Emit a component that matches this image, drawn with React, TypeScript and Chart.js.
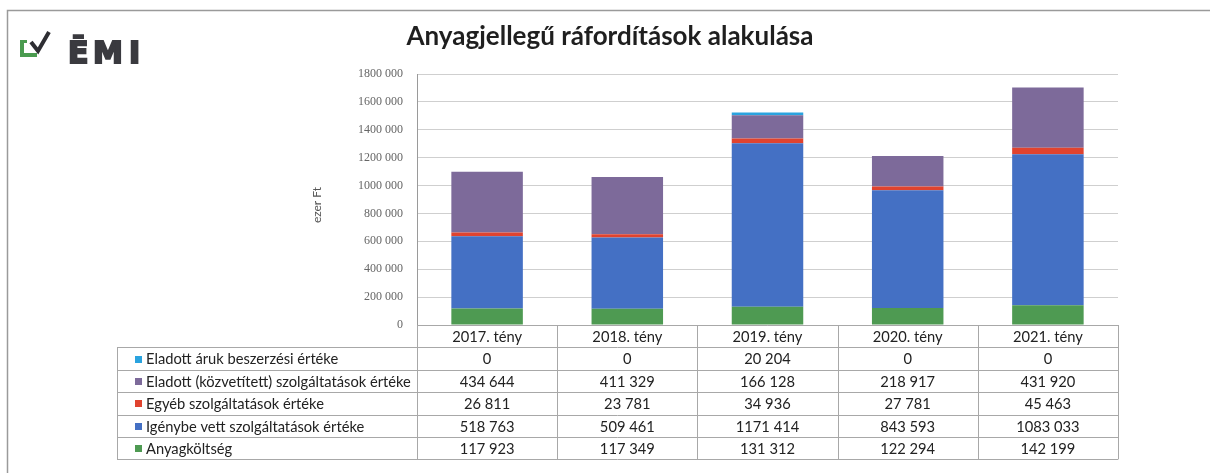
import React, { useEffect, useRef } from 'react';
import { Chart, registerables } from 'chart.js';
Chart.register(...registerables);

const W = 1210;
const H = 473;

const categories = ['2017. tény', '2018. tény', '2019. tény', '2020. tény', '2021. tény'];
const anyagkoltseg = [117923, 117349, 131312, 122294, 142199];
const igenybeVett = [518763, 509461, 1171414, 843593, 1083033];
const egyebSzolg = [26811, 23781, 34936, 27781, 45463];
const eladottSzolg = [434644, 411329, 166128, 218917, 431920];
const eladottAruk = [0, 0, 20204, 0, 0];

const seriesLabels = [
  'Anyagköltség',
  'Igénybe vett szolgáltatások értéke',
  'Egyéb szolgáltatások értéke',
  'Eladott (közvetített) szolgáltatások értéke',
  'Eladott áruk beszerzési értéke',
];
const seriesColors = ['#4e9a52', '#4470c4', '#e0432f', '#7d6a9a', '#2aa3df'];
const seriesData = [anyagkoltseg, igenybeVett, egyebSzolg, eladottSzolg, eladottAruk];

const yTicks = [0, 200000, 400000, 600000, 800000, 1000000, 1200000, 1400000, 1600000, 1800000];

const titleText = 'Anyagjellegű ráfordítások alakulása';
const yTitle = 'ezer Ft';

function fmt(n: number): string {
  if (n < 1000) return String(n);
  return Math.floor(n / 1000) + ' ' + String(n % 1000).padStart(3, '0');
}

const TABLE_FONT = '14.7px Lato';

const decorPlugin = {
  id: 'decor',
  beforeDraw(chart: any) {
    const ctx = chart.ctx;
    ctx.save();
    ctx.fillStyle = '#ffffff';
    ctx.fillRect(0, 0, W, H);
    ctx.restore();
  },
  afterDraw(chart: any) {
    const ctx = chart.ctx as CanvasRenderingContext2D;
    const area = chart.chartArea;
    const xs = chart.scales.x;
    ctx.save();

    // outer frame
    ctx.strokeStyle = '#9a9a9a';
    ctx.lineWidth = 1.5;
    ctx.beginPath();
    ctx.moveTo(7.5, H + 2);
    ctx.lineTo(7.5, 10.5);
    ctx.lineTo(W + 2, 10.5);
    ctx.stroke();

    // logo
    ctx.fillStyle = '#4a9b4f';
    ctx.fillRect(20, 40, 4, 17);
    ctx.fillRect(20, 40, 7, 3);
    ctx.fillRect(20, 53, 17, 4);
    ctx.strokeStyle = '#2e2e33';
    ctx.lineWidth = 4;
    ctx.lineJoin = 'miter';
    ctx.beginPath();
    ctx.moveTo(31, 42);
    ctx.lineTo(38, 51);
    ctx.lineTo(49, 32);
    ctx.stroke();
    ctx.fillStyle = '#3a3a3f';
    ctx.strokeStyle = '#3a3a3f';
    ctx.lineWidth = 2;
    ctx.font = 'bold 30px "DejaVu Sans"';
    ctx.textBaseline = 'alphabetic';
    ctx.textAlign = 'left';
    ctx.fillText('Ē', 68, 63);
    ctx.strokeText('Ē', 68, 63);
    ctx.fillText('M', 93, 63);
    ctx.strokeText('M', 93, 63);
    ctx.fillText('I', 129, 63);
    ctx.strokeText('I', 129, 63);

    // title
    ctx.fillStyle = '#1f1f1f';
    ctx.font = 'bold 26px Lato';
    ctx.textAlign = 'center';
    ctx.textBaseline = 'middle';
    ctx.fillText(titleText, 610, 37);

    // y title
    ctx.save();
    ctx.translate(317, 205);
    ctx.rotate(-Math.PI / 2);
    ctx.font = '12px Lato';
    ctx.fillStyle = '#555555';
    ctx.fillText(yTitle, 0, 0);
    ctx.restore();

    // data table
    const n = categories.length;
    const colW = (area.right - area.left) / n;
    const top = area.bottom;
    const rowH = 22.4;
    const tableLeft = 117;
    const rows = seriesLabels.length;
    const bottom = top + rowH * (rows + 1);
    ctx.strokeStyle = '#a8a8a8';
    ctx.lineWidth = 1;
    ctx.beginPath();
    ctx.moveTo(area.left, Math.round(top) + 0.5);
    ctx.lineTo(area.right, Math.round(top) + 0.5);
    for (let r = 1; r <= rows + 1; r++) {
      const y = Math.round(top + r * rowH) + 0.5;
      ctx.moveTo(tableLeft, y);
      ctx.lineTo(area.right, y);
    }
    for (let c = 0; c <= n; c++) {
      const x = Math.round(area.left + c * colW) + 0.5;
      ctx.moveTo(x, top);
      ctx.lineTo(x, bottom);
    }
    ctx.moveTo(tableLeft + 0.5, top + rowH);
    ctx.lineTo(tableLeft + 0.5, bottom);
    ctx.stroke();

    ctx.font = TABLE_FONT;
    ctx.fillStyle = '#222222';
    ctx.textAlign = 'center';
    ctx.textBaseline = 'middle';
    categories.forEach((c, i) => {
      ctx.fillText(c, xs.getPixelForValue(i), top + rowH / 2 + 1);
    });
    for (let r = 0; r < rows; r++) {
      const si = rows - 1 - r;
      const yc = top + rowH * (r + 1) + rowH / 2 + 1;
      ctx.fillStyle = seriesColors[si];
      ctx.fillRect(135, Math.round(yc - 4), 7, 7);
      ctx.fillStyle = '#222222';
      ctx.textAlign = 'left';
      ctx.fillText(seriesLabels[si], 146, yc);
      ctx.textAlign = 'center';
      seriesData[si].forEach((v, i) => {
        ctx.fillText(fmt(v), xs.getPixelForValue(i), yc);
      });
    }
    ctx.restore();
  },
};

export default function App() {
  const ref = useRef<HTMLCanvasElement>(null);
  useEffect(() => {
    const chart = new Chart(ref.current as HTMLCanvasElement, {
      type: 'bar',
      data: {
        labels: categories,
        datasets: seriesData.map((d, i) => ({
          label: seriesLabels[i],
          data: d,
          backgroundColor: seriesColors[i],
          borderWidth: 0,
          categoryPercentage: 1,
          barPercentage: 0.51,
        })),
      },
      options: {
        animation: false,
        responsive: false,
        devicePixelRatio: 1,
        layout: { padding: { left: 0, right: 92, top: 74, bottom: 148 } },
        plugins: {
          legend: { display: false },
          title: { display: false },
          tooltip: { enabled: false },
        },
        scales: {
          x: {
            stacked: true,
            display: false,
          },
          y: {
            stacked: true,
            min: 0,
            max: 1800000,
            afterFit: (scale: any) => {
              scale.width = 417;
            },
            afterBuildTicks: (scale: any) => {
              scale.ticks = yTicks.map((v) => ({ value: v }));
            },
            ticks: {
              padding: 14,
              color: '#666666',
              font: { family: '"Liberation Serif"', size: 12 },
              callback: (v: any) => fmt(Number(v)),
            },
            grid: { color: '#cfcfcf', drawTicks: false },
            border: { color: '#9a9a9a' },
          },
        },
      },
      plugins: [decorPlugin],
    });
    return () => chart.destroy();
  }, []);
  return (
    <div style={{ position: 'fixed', left: 0, top: 0, width: W, height: H, background: '#fff' }}>
      <canvas ref={ref} width={W} height={H} style={{ width: W, height: H, display: 'block' }} />
    </div>
  );
}
